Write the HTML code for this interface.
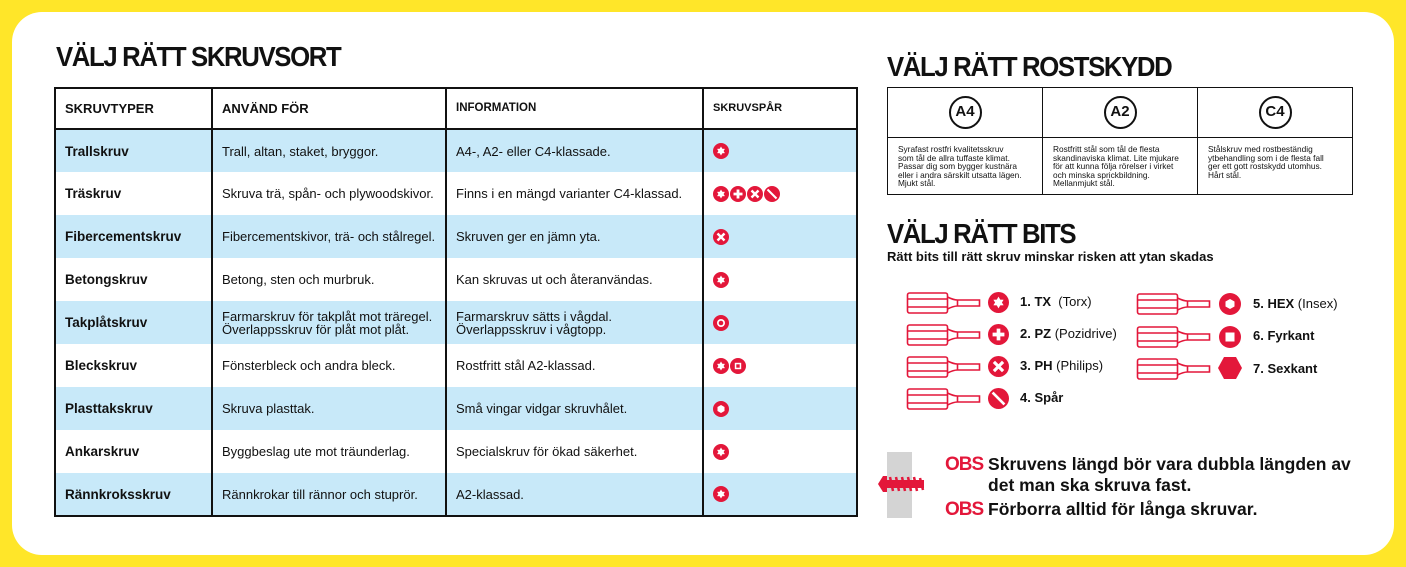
<!DOCTYPE html>
<html><head><meta charset="utf-8"><style>
*{margin:0;padding:0;box-sizing:border-box}
body{width:1406px;height:567px;background:#ffe629;position:relative;overflow:hidden;font-family:"Liberation Sans",sans-serif;color:#111}
#card{position:absolute;left:12px;top:12px;width:1382px;height:543px;background:#fff;border-radius:30px}
.h{position:absolute;font-weight:bold;font-size:28px;letter-spacing:-1.5px;transform:scaleX(0.92);transform-origin:left top;color:#111}
table{border-collapse:collapse;position:absolute}
#t1{left:54px;top:87px;width:804px}
#t1 td{border-left:2px solid #111;border-right:2px solid #111;font-size:13px;padding-left:9px;height:43px;vertical-align:middle;line-height:13px}
#t1 tr.hd td{border-top:2px solid #111;border-bottom:2px solid #111;height:41px;font-weight:bold;font-size:13px}
#t1 tr:last-child td{border-bottom:2px solid #111}
#t1 tr.b td{background:#c8e9f9}
#t1 td:first-child{font-weight:bold;font-size:13.5px}
#t1 svg{vertical-align:middle;margin-right:1px}
#t2{left:887px;top:87px;width:466px;border:1.5px solid #111}
#t2 td{border:1.2px solid #111;width:155px;font-size:8.3px;line-height:8.6px;vertical-align:top;padding:7px 0 0 10px;white-space:nowrap}
#t2 tr.top td{height:50px;text-align:center;padding:0;vertical-align:middle}
.ring{display:inline-block;width:33px;height:33px;border:2.5px solid #111;border-radius:50%;font-weight:bold;font-size:15px;line-height:28px;text-align:center}
.lbl{position:absolute;font-size:13px}
.lbl b{font-weight:bold}
.obs{position:absolute;font-weight:bold;font-size:17.5px;line-height:21px}
.obs span{color:#e3173a;font-size:19px;letter-spacing:-1px}
</style></head><body>
<div id="card"></div>
<svg width="0" height="0" style="position:absolute">
<defs>
<symbol id="tx" viewBox="0 0 16 16"><circle cx="8" cy="8" r="8" fill="#e3173a"/><path d="M8 3.5l1.3 2.3 2.6.1-1.3 2.1 1.3 2.1-2.6.1L8 12.5 6.7 10.2 4.1 10.1 5.4 8 4.1 5.9 6.7 5.8z" fill="#fff"/></symbol>
<symbol id="pz" viewBox="0 0 16 16"><circle cx="8" cy="8" r="8" fill="#e3173a"/><path d="M6.6 3.5h2.8v3.1h3.1v2.8H9.4v3.1H6.6V9.4H3.5V6.6h3.1z" fill="#fff"/></symbol>
<symbol id="ph" viewBox="0 0 16 16"><circle cx="8" cy="8" r="8" fill="#e3173a"/><path d="M4.5 4.5l7 7M11.5 4.5l-7 7" stroke="#fff" stroke-width="2.4"/></symbol>
<symbol id="sl" viewBox="0 0 16 16"><circle cx="8" cy="8" r="8" fill="#e3173a"/><path d="M3.5 3.5l9 9" stroke="#fff" stroke-width="2"/></symbol>
<symbol id="sq" viewBox="0 0 16 16"><circle cx="8" cy="8" r="8" fill="#e3173a"/><rect x="4.8" y="4.8" width="6.4" height="6.4" fill="#fff"/><rect x="6.3" y="6.3" width="3.4" height="3.4" fill="#e3173a"/></symbol>
<symbol id="rg" viewBox="0 0 16 16"><circle cx="8" cy="8" r="8" fill="#e3173a"/><circle cx="8" cy="8" r="4" fill="#fff"/><circle cx="8" cy="8" r="2.3" fill="#e3173a"/></symbol>
<symbol id="hx" viewBox="0 0 16 16"><circle cx="8" cy="8" r="8" fill="#e3173a"/><path d="M8 4l3.5 2v4L8 12 4.5 10V6z" fill="#fff"/></symbol>
<symbol id="bit" viewBox="0 0 74 22"><g fill="none" stroke="#e3173a" stroke-width="1.6"><rect x="1" y="1" width="40" height="20" rx="2"/><path d="M1 7h40M1 15h40"/><path d="M41 5q6 3 10 3h22v6H51q-4 0-10 3"/><path d="M51 8v6"/></g></symbol>
</defs></svg>

<div class="h" style="left:56px;top:41px">VÄLJ RÄTT SKRUVSORT</div>
<table id="t1">
<tr class="hd"><td style="width:157px">SKRUVTYPER</td><td style="width:234px">ANVÄND FÖR</td><td style="width:257px;font-size:11.5px">INFORMATION</td><td style="font-size:11px">SKRUVSPÅR</td></tr>
<tr class="b"><td>Trallskruv</td><td>Trall, altan, staket, bryggor.</td><td>A4-, A2- eller C4-klassade.</td><td><svg width="16" height="16"><use href="#tx"/></svg></td></tr>
<tr><td>Träskruv</td><td>Skruva trä, spån- och plywoodskivor.</td><td>Finns i en mängd varianter C4-klassad.</td><td><svg width="16" height="16"><use href="#tx"/></svg><svg width="16" height="16"><use href="#pz"/></svg><svg width="16" height="16"><use href="#ph"/></svg><svg width="16" height="16"><use href="#sl"/></svg></td></tr>
<tr class="b"><td>Fibercementskruv</td><td>Fibercementskivor, trä- och stålregel.</td><td>Skruven ger en jämn yta.</td><td><svg width="16" height="16"><use href="#ph"/></svg></td></tr>
<tr><td>Betongskruv</td><td>Betong, sten och murbruk.</td><td>Kan skruvas ut och återanvändas.</td><td><svg width="16" height="16"><use href="#tx"/></svg></td></tr>
<tr class="b"><td>Takplåtskruv</td><td>Farmarskruv för takplåt mot träregel.<br>Överlappsskruv för plåt mot plåt.</td><td>Farmarskruv sätts i vågdal.<br>Överlappsskruv i vågtopp.</td><td><svg width="16" height="16"><use href="#rg"/></svg></td></tr>
<tr><td>Bleckskruv</td><td>Fönsterbleck och andra bleck.</td><td>Rostfritt stål A2-klassad.</td><td><svg width="16" height="16"><use href="#tx"/></svg><svg width="16" height="16"><use href="#sq"/></svg></td></tr>
<tr class="b"><td>Plasttakskruv</td><td>Skruva plasttak.</td><td>Små vingar vidgar skruvhålet.</td><td><svg width="16" height="16"><use href="#hx"/></svg></td></tr>
<tr><td>Ankarskruv</td><td>Byggbeslag ute mot träunderlag.</td><td>Specialskruv för ökad säkerhet.</td><td><svg width="16" height="16"><use href="#tx"/></svg></td></tr>
<tr class="b"><td>Rännkroksskruv</td><td>Rännkrokar till rännor och stuprör.</td><td>A2-klassad.</td><td><svg width="16" height="16"><use href="#tx"/></svg></td></tr>
</table>

<div class="h" style="left:887px;top:51px">VÄLJ RÄTT ROSTSKYDD</div>
<table id="t2">
<tr class="top"><td><span class="ring">A4</span></td><td><span class="ring">A2</span></td><td><span class="ring">C4</span></td></tr>
<tr><td style="height:57px">Syrafast rostfri kvalitetsskruv<br>som tål de allra tuffaste klimat.<br>Passar dig som bygger kustnära<br>eller i andra särskilt utsatta lägen.<br>Mjukt stål.</td><td>Rostfritt stål som tål de flesta<br>skandinaviska klimat. Lite mjukare<br>för att kunna följa rörelser i virket<br>och minska sprickbildning.<br>Mellanmjukt stål.</td><td>Stålskruv med rostbeständig<br>ytbehandling som i de flesta fall<br>ger ett gott rostskydd utomhus.<br>Hårt stål.</td></tr>
</table>

<div class="h" style="left:887px;top:218px">VÄLJ RÄTT BITS</div>
<div style="position:absolute;left:887px;top:249px;font-weight:bold;font-size:13px">Rätt bits till rätt skruv minskar risken att ytan skadas</div>

<svg style="position:absolute;left:906px;top:292px" width="75" height="22"><use href="#bit"/></svg>
<svg style="position:absolute;left:906px;top:324px" width="75" height="22"><use href="#bit"/></svg>
<svg style="position:absolute;left:906px;top:356px" width="75" height="22"><use href="#bit"/></svg>
<svg style="position:absolute;left:906px;top:388px" width="75" height="22"><use href="#bit"/></svg>
<svg style="position:absolute;left:1136px;top:293px" width="75" height="22"><use href="#bit"/></svg>
<svg style="position:absolute;left:1136px;top:326px" width="75" height="22"><use href="#bit"/></svg>
<svg style="position:absolute;left:1136px;top:358px" width="75" height="22"><use href="#bit"/></svg>
<svg style="position:absolute;left:988px;top:292px" width="21" height="21"><use href="#tx"/></svg>
<svg style="position:absolute;left:988px;top:324px" width="21" height="21"><use href="#pz"/></svg>
<svg style="position:absolute;left:988px;top:356px" width="21" height="21"><use href="#ph"/></svg>
<svg style="position:absolute;left:988px;top:388px" width="21" height="21"><use href="#sl"/></svg>
<svg style="position:absolute;left:1219px;top:293px" width="22" height="22" viewBox="0 0 22 22"><circle cx="11" cy="11" r="11" fill="#e3173a"/><path d="M11 6l4.5 2.5v5L11 16l-4.5-2.5v-5z" fill="#fff"/></svg>
<svg style="position:absolute;left:1219px;top:326px" width="22" height="22" viewBox="0 0 22 22"><circle cx="11" cy="11" r="11" fill="#e3173a"/><rect x="6.5" y="6.5" width="9" height="9" fill="#fff"/></svg>
<svg style="position:absolute;left:1218px;top:357px" width="24" height="22" viewBox="0 0 24 22"><path d="M6 0h12l6 11-6 11H6L0 11z" fill="#e3173a"/></svg>
<div class="lbl" style="left:1020px;top:294px"><b>1. TX</b>&nbsp; (Torx)</div>
<div class="lbl" style="left:1020px;top:326px"><b>2. PZ</b> (Pozidrive)</div>
<div class="lbl" style="left:1020px;top:358px"><b>3. PH</b> (Philips)</div>
<div class="lbl" style="left:1020px;top:390px"><b>4. Spår</b></div>
<div class="lbl" style="left:1253px;top:296px"><b>5. HEX</b> (Insex)</div>
<div class="lbl" style="left:1253px;top:328px"><b>6. Fyrkant</b></div>
<div class="lbl" style="left:1253px;top:361px"><b>7. Sexkant</b></div>

<div style="position:absolute;left:887px;top:452px;width:25px;height:66px;background:#d4d4d4"></div>
<svg style="position:absolute;left:878px;top:472px" width="56" height="24" viewBox="0 0 56 24"><path d="M0 12L5 4h4v16H5z" fill="#e3173a"/><rect x="8" y="8" width="38" height="8" fill="#e3173a"/><path d="M12 5l3 14M18 5l3 14M24 5l3 14M30 5l3 14M36 5l3 14M42 6l3 12" stroke="#e3173a" stroke-width="2.5"/></svg>
<div class="obs" style="left:945px;top:454px"><span>OBS</span> Skruvens längd bör vara dubbla längden av<br><span style="visibility:hidden">OBS</span> det man ska skruva fast.</div>
<div class="obs" style="left:945px;top:499px"><span>OBS</span> Förborra alltid för långa skruvar.</div>
</body></html>
